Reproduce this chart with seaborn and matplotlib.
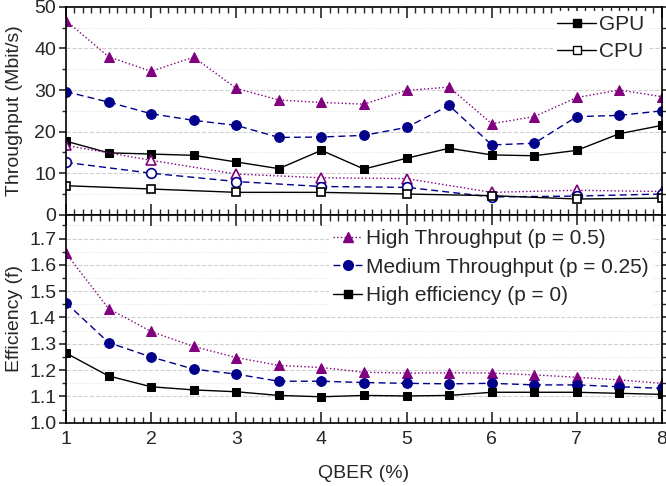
import numpy as np
import pandas as pd
import seaborn as sns
import matplotlib.pyplot as plt
from matplotlib.lines import Line2D
from matplotlib.ticker import MultipleLocator

# QBER points
qber = [1, 1.5, 2, 2.5, 3, 3.5, 4, 4.5, 5, 5.5, 6, 6.5, 7, 7.5, 8]
qber_cpu = [1, 2, 3, 4, 5, 6, 7, 8]

# throughput on GPU (Mbit/s)
gpu_high_tp = [46.7, 38.0, 34.5, 37.9, 30.4, 27.6, 27.0, 26.6, 29.9, 30.7, 21.9, 23.6, 28.2, 30.0, 28.4]
gpu_med_tp = [29.6, 27.1, 24.3, 22.7, 21.5, 18.6, 18.7, 19.1, 21.0, 26.3, 16.8, 17.2, 23.6, 23.9, 25.0]
gpu_high_eff = [17.7, 14.9, 14.6, 14.3, 12.7, 11.1, 15.5, 11.0, 13.6, 16.0, 14.4, 14.2, 15.5, 19.5, 21.5]

# throughput on CPU (Mbit/s)
cpu_high_tp = [16.7, 13.1, 9.8, 8.9, 8.7, 5.4, 5.9, 5.6]
cpu_med_tp = [12.6, 10.0, 8.0, 6.8, 6.6, 4.3, 4.5, 5.0]
cpu_high_eff = [7.0, 6.2, 5.4, 5.4, 5.0, 4.6, 3.8, 4.0]

# efficiency f
eff_high_tp = [1.644, 1.434, 1.347, 1.290, 1.248, 1.218, 1.210, 1.192, 1.189, 1.190, 1.189, 1.182, 1.173, 1.163, 1.150]
eff_med_tp = [1.456, 1.305, 1.250, 1.204, 1.185, 1.158, 1.158, 1.153, 1.150, 1.148, 1.150, 1.144, 1.144, 1.137, 1.131]
eff_high_eff = [1.265, 1.178, 1.137, 1.125, 1.118, 1.104, 1.099, 1.104, 1.102, 1.104, 1.116, 1.116, 1.116, 1.112, 1.108]

labels = ['High Throughput (p = 0.5)', 'Medium Throughput (p = 0.25)', 'High efficiency (p = 0)']
purple = '#800080'
navy = '#00008b'

sns.set_style("white")
plt.rcParams['font.family'] = ['Liberation Sans', 'DejaVu Sans']

fig, (ax1, ax2) = plt.subplots(2, 1, sharex=True, figsize=(6.66, 4.86), dpi=100)
fig.subplots_adjust(hspace=0, left=0.099, right=0.994, top=0.986, bottom=0.13)

styles = [
    dict(color=purple, linestyle=':', marker='^', markersize=7.5),
    dict(color=navy, linestyle=(0, (5, 3)), marker='o', markersize=7),
    dict(color='black', linestyle='-', marker='s', markersize=6),
]

# top panel: throughput
for vals, st in zip([gpu_high_tp, gpu_med_tp, gpu_high_eff], styles):
    sns.lineplot(x=qber, y=vals, ax=ax1, lw=1, markeredgecolor=st['color'], **st)
for vals, st in zip([cpu_high_tp, cpu_med_tp, cpu_high_eff], styles):
    sns.lineplot(x=qber_cpu, y=vals, ax=ax1, lw=1, markerfacecolor='white',
                 markeredgecolor=st['color'], markeredgewidth=1.2, **st)

# bottom panel: efficiency
for vals, st in zip([eff_high_tp, eff_med_tp, eff_high_eff], styles):
    sns.lineplot(x=qber, y=vals, ax=ax2, lw=1, markeredgecolor=st['color'], **st)

ax1.set_ylim(0, 50)
ax1.yaxis.set_major_locator(MultipleLocator(10))
ax1.yaxis.set_minor_locator(MultipleLocator(5))
ax2.set_ylim(1.0, 1.79)
ax2.yaxis.set_major_locator(MultipleLocator(0.1))
ax2.yaxis.set_minor_locator(MultipleLocator(0.05))
ax2.set_xlim(1, 8)
ax2.xaxis.set_major_locator(MultipleLocator(1))
ax2.xaxis.set_minor_locator(MultipleLocator(0.1))
ax2.yaxis.set_major_formatter(plt.FormatStrFormatter('%.1f'))

for ax in (ax1, ax2):
    ax.grid(which='major', axis='y', color='#d0d0d0', linestyle='--', lw=0.8)
    ax.grid(which='minor', axis='y', color='#e2e2e2', linestyle=':', lw=0.8)
    ax.set_axisbelow(True)
    for sp in ax.spines.values():
        sp.set_color('black')
        sp.set_linewidth(1.2)
    ax.tick_params(axis='x', which='both', direction='in', top=True, bottom=True, labelsize=14, pad=6)
    ax.tick_params(axis='x', which='major', length=8, width=1.2)
    ax.tick_params(axis='x', which='minor', length=4, width=1)
    ax.tick_params(axis='y', which='both', direction='out', left=True, labelsize=14, pad=2)
    ax.tick_params(axis='y', which='major', length=5, width=1.2)
    ax.tick_params(axis='y', which='minor', length=3, width=1)
    ax.tick_params(axis='y', which='both', right=True)

ax1.set_ylabel('Throughput (Mbit/s)', fontsize=14, labelpad=4)
ax2.set_ylabel('Efficiency (f)', fontsize=14, labelpad=4)
ax2.set_xlabel('QBER (%)', fontsize=14, labelpad=12)
ax1.set_xlabel('')
fig.align_ylabels([ax1, ax2])

# legends
h_dev = [Line2D([], [], color='black', lw=1, marker='s', markersize=6),
         Line2D([], [], color='black', lw=1, marker='s', markersize=6, markerfacecolor='white')]
ax1.legend(h_dev, ['GPU', 'CPU'], loc='upper right', bbox_to_anchor=(0.985, 1.0), fontsize=15,
           frameon=True, framealpha=1, edgecolor='none', handlelength=1.9, handletextpad=0.15,
           borderaxespad=0.2, borderpad=0.2, labelspacing=0.4)

h_mode = [Line2D([], [], lw=1, markeredgecolor=st['color'], **st) for st in styles]
ax2.legend(h_mode, labels, loc='upper left', bbox_to_anchor=(0.441, 0.95), fontsize=15,
           frameon=True, framealpha=1, edgecolor='none', handlelength=1.4,
           handletextpad=0.2, borderaxespad=0, borderpad=0.2, labelspacing=0.45)

fig.savefig('out.png', dpi=100)
